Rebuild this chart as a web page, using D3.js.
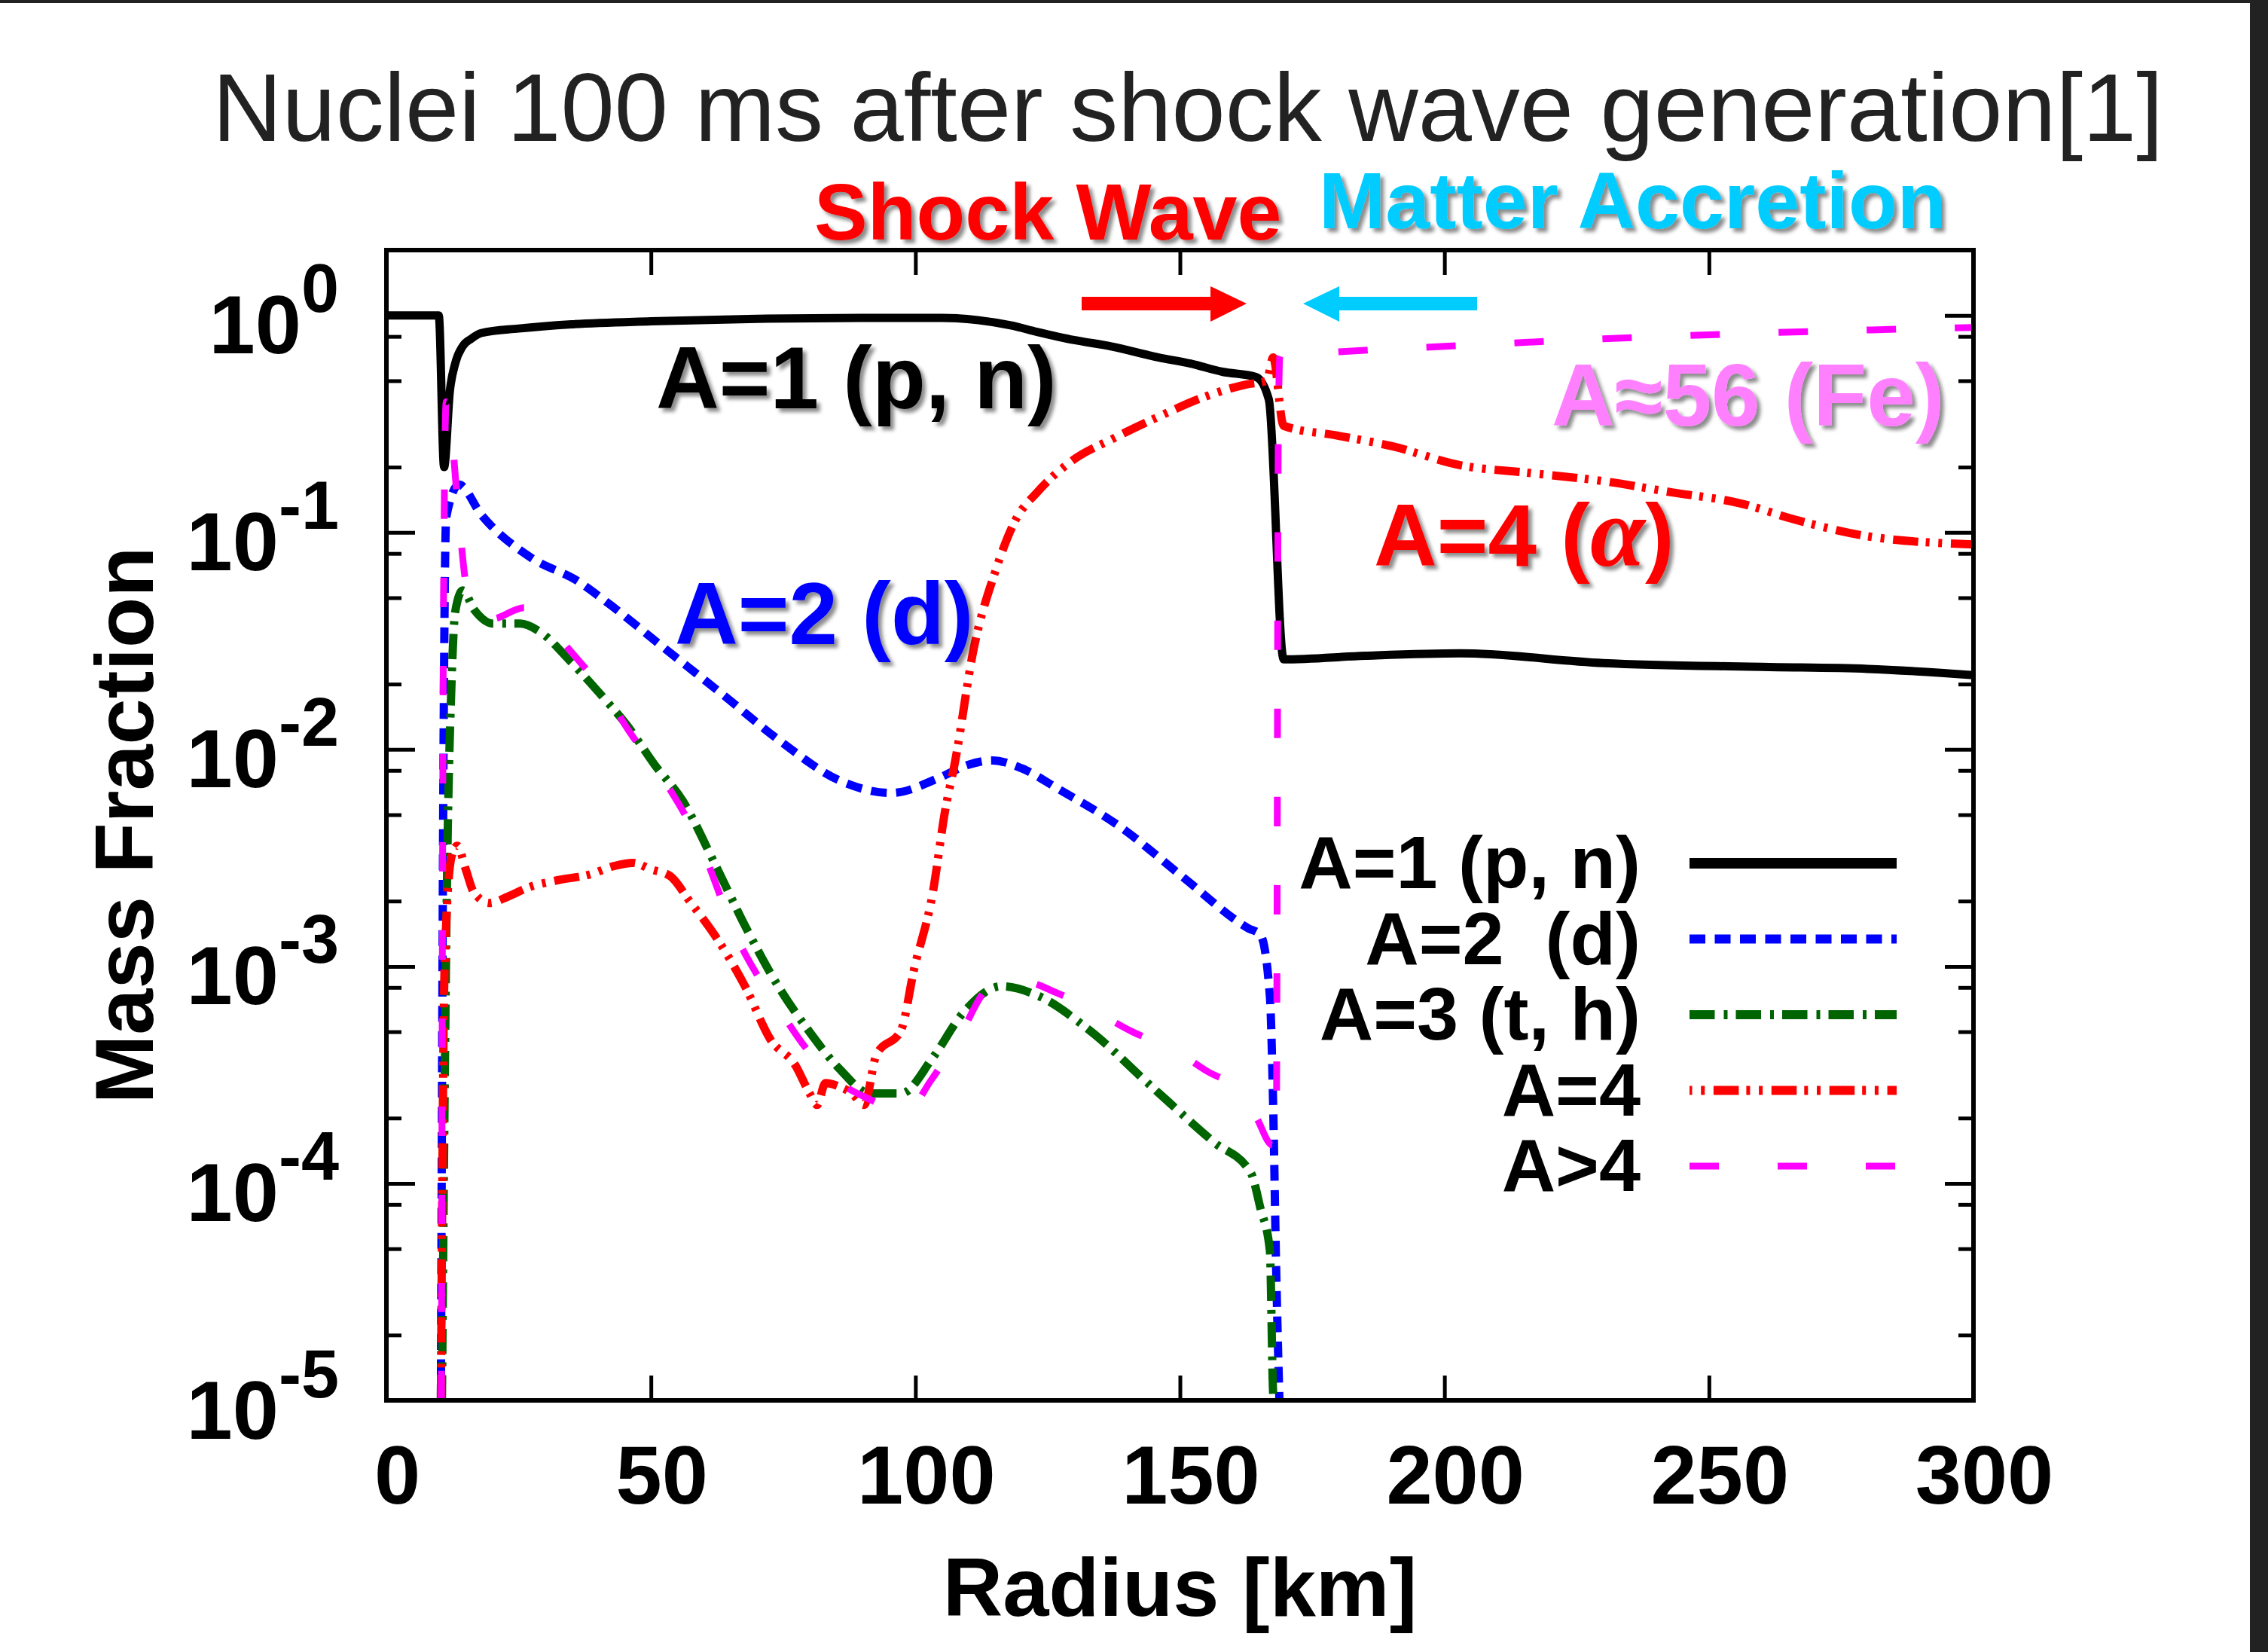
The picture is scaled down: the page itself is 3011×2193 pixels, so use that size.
<!DOCTYPE html>
<html>
<head>
<meta charset="utf-8">
<script src="https://cdn.jsdelivr.net/npm/d3@7"></script>
<style>
  body { margin: 0; background: #fff; }
  svg { display: block; }
</style>
</head>
<body>
<main></main>
<script>
const W = 3011;
const H = 2193;
const margin = { left: 513, right: 391, top: 332, bottom: 334 };

// axis ticks
const radiusTicks = [0, 50, 100, 150, 200, 250, 300];
const decadeExponents = [0, -1, -2, -3, -4, -5];
const minorMantissas = [2, 5, 8];

// mass fraction curves, [radius km, fraction]
const a1PN = [[0,1],[9.9,1],[10.9,0.2],[12,0.45],[13,0.6],[14.4,0.72],[16,0.78],[18,0.83],[25,0.87],[35,0.91],[50,0.94],[70,0.965],[90,0.975],[105,0.975],[112,0.95],[118,0.9],[123,0.84],[130,0.77],[137,0.72],[146,0.64],[152,0.6],[158,0.55],[164.4,0.52],[166.8,0.41],[169.6,0.026],[185,0.027],[203,0.0277],[230,0.025],[260,0.024],[280,0.0235],[300,0.022]];

const a2D = [[10.3,1e-5],[10.8,0.01],[11.3,0.117],[13.7,0.166],[18,0.12],[27.5,0.076],[36,0.06],[42,0.047],[52,0.03],[63.7,0.0178],[74.7,0.0108],[85.6,0.0072],[95.5,0.0063],[104.5,0.0074],[110,0.0085],[114.5,0.0089],[120,0.0082],[126.9,0.0066],[138.7,0.0044],[150.4,0.0026],[162.9,0.0015],[165.2,0.0014],[167,7.3e-4],[167.6,2.4e-4],[168.2,3.9e-5],[168.8,1e-5]];

const a3TH = [[10.5,1e-5],[11.5,0.003],[12.3,0.02],[13,0.043],[14.4,0.054],[16.6,0.044],[20.2,0.038],[25.3,0.038],[28.9,0.035],[34.7,0.0256],[40.6,0.0178],[45.6,0.0128],[50.7,0.0085],[56,0.0058],[62,0.003],[67.9,0.00152],[73.8,8.3e-4],[79.7,5.1e-4],[85.5,3.4e-4],[91.5,2.6e-4],[97.3,2.6e-4],[103.3,3.8e-4],[109,6.1e-4],[116.3,8.1e-4],[123.3,7.3e-4],[132.8,5.1e-4],[144.6,2.8e-4],[156.4,1.55e-4],[163.4,1.12e-4],[165.2,7.7e-5],[167,4.9e-5],[167.6,1.1e-5],[167.7,1e-5]];

const a4Alpha = [[10.3,1e-5],[11,0.001],[12.3,0.0032],[13.4,0.0036],[15,0.0028],[16.5,0.0022],[19.5,0.00196],[23,0.0021],[26.6,0.0023],[32.5,0.0025],[38.4,0.00265],[43,0.0029],[46.6,0.003],[50,0.0028],[53.7,0.0026],[57.3,0.002],[62,0.0014],[67.9,8e-4],[72.6,4.6e-4],[77.3,3.5e-4],[80,2.6e-4],[81.4,2.3e-4],[83,2.9e-4],[85.5,2.8e-4],[88,2.6e-4],[90.3,2.3e-4],[92.6,3.9e-4],[97.3,5.1e-4],[99.7,9.6e-4],[103.3,0.0022],[105.6,0.0052],[107.5,0.0088],[111,0.029],[115,0.065],[119,0.115],[123,0.153],[129.5,0.213],[137.4,0.271],[146.6,0.347],[154.5,0.42],[162.4,0.48],[166.4,0.5],[167.6,0.64],[169.6,0.31],[179.5,0.28],[190,0.25],[203,0.204],[216,0.188],[229.5,0.173],[243,0.153],[256,0.136],[266,0.115],[280,0.096],[300,0.088]];

const aHeavy = [[10.4,1e-5],[10.8,0.05],[11.3,0.4],[12,0.35],[13.3,0.15],[15.6,0.05],[20,0.04],[26,0.045],[29.5,0.04],[35,0.028],[41,0.0187],[46,0.012],[51.4,0.0079],[59.4,0.0036],[66,0.0014],[74,6.5e-4],[80,4e-4],[85,3e-4],[92,2.4e-4],[98,2.1e-4],[103,3e-4],[108,4.6e-4],[114,8e-4],[119.7,8.6e-4],[127,7.5e-4],[134,6.2e-4],[141,5e-4],[149,4.1e-4],[155,3.3e-4],[161.7,2.6e-4],[164.5,2e-4],[167.5,1.5e-4],[168.2,1.5e-4],[168.6,0.3],[168.9,0.65],[180,0.68],[200,0.72],[230,0.78],[260,0.83],[300,0.88]];

const seriesNames = ["A=1 (p, n)", "A=2\u00a0 (d)", "A=3 (t, h)", "A=4", "A>4"];
const seriesData = [a1PN, a2D, a3TH, a4Alpha, aHeavy];

// looks
const colors = ["#000000", "#0000ff", "#006400", "#ff0000", "#ff00ff"];
const dashes = ["none", "21 12.5", "33.5 12 5 11", "33.5 10 5 11.7 5 11.7", "39 78"];
const widths = [11, 11, 11, 11, 9];
const legendWidths = [14, 12, 12, 12, 9];

const svg = d3.select("main").append("svg")
    .attr("width", W)
    .attr("height", H);

svg.append("rect").attr("width", W).attr("height", H).attr("fill", "#fff");
// dark screen edge
svg.append("rect").attr("x", 0).attr("y", 0).attr("width", W).attr("height", 4).attr("fill", "#222");
svg.append("rect").attr("x", 2987).attr("y", 0).attr("width", 24).attr("height", H).attr("fill", "#222");

const defs = svg.append("defs");
defs.append("filter")
    .attr("id", "shadow")
    .attr("x", "-10%").attr("y", "-20%")
    .attr("width", "130%").attr("height", "150%")
  .append("feDropShadow")
    .attr("dx", 5).attr("dy", 5)
    .attr("stdDeviation", 2.5)
    .attr("flood-color", "#000")
    .attr("flood-opacity", 0.45);

const plotW = W - margin.left - margin.right;
const plotH = H - margin.top - margin.bottom;

defs.append("clipPath").attr("id", "plotclip")
  .append("rect")
    .attr("x", margin.left).attr("y", margin.top)
    .attr("width", plotW).attr("height", plotH);

const xScale = d3.scaleLinear()
    .domain([0, 300])
    .range([margin.left, margin.left + plotW]);

const yScale = d3.scaleLog()
    .domain([1e-5, 2])
    .range([margin.top + plotH, margin.top]);

const font = "'Liberation Sans', Arial, Helvetica, sans-serif";

// ticks
const majorY = decadeExponents.map(e => Math.pow(10, e));
const minorY = [];
decadeExponents.forEach(e => {
    if (e < 0) minorMantissas.forEach(m => minorY.push(m * Math.pow(10, e)));
});

function styleTicks(g) {
    g.select(".domain").remove();
    g.selectAll(".tick line").attr("stroke", "#000").attr("stroke-width", 5);
}

svg.append("g")
    .attr("transform", "translate(0," + (margin.top + plotH) + ")")
    .call(d3.axisBottom(xScale).tickValues(radiusTicks).tickSizeInner(-33).tickSizeOuter(0))
    .call(styleTicks)
    .call(g => g.selectAll("text")
        .attr("y", 137).attr("dy", null).attr("dx", 14)
        .attr("fill", "#000")
        .style("font-family", font).style("font-size", "110px").style("font-weight", "bold"));

svg.append("g")
    .attr("transform", "translate(0," + margin.top + ")")
    .call(d3.axisTop(xScale).tickValues(radiusTicks).tickSizeInner(-33).tickSizeOuter(0).tickFormat(""))
    .call(styleTicks);

svg.append("g")
    .attr("transform", "translate(" + margin.left + ",0)")
    .call(d3.axisLeft(yScale).tickValues(majorY).tickSizeInner(-38).tickSizeOuter(0).tickFormat(""))
    .call(styleTicks)
    .call(g => g.selectAll(".tick text").each(function(d) {
        const t = d3.select(this)
            .attr("x", -63).attr("dy", 50)
            .attr("fill", "#000")
            .attr("text-anchor", "end")
            .style("font-family", font).style("font-size", "110px").style("font-weight", "bold");
        t.append("tspan").text("10");
        t.append("tspan").attr("dy", -55).style("font-size", "90px")
            .text(Math.round(Math.log10(d)) === 0 ? "0" : "-" + Math.abs(Math.round(Math.log10(d))));
    }));

svg.append("g")
    .attr("transform", "translate(" + margin.left + ",0)")
    .call(d3.axisLeft(yScale).tickValues(minorY).tickSizeInner(-20).tickSizeOuter(0).tickFormat(""))
    .call(styleTicks);

svg.append("g")
    .attr("transform", "translate(" + (margin.left + plotW) + ",0)")
    .call(d3.axisRight(yScale).tickValues(majorY).tickSizeInner(-38).tickSizeOuter(0).tickFormat(""))
    .call(styleTicks);

svg.append("g")
    .attr("transform", "translate(" + (margin.left + plotW) + ",0)")
    .call(d3.axisRight(yScale).tickValues(minorY).tickSizeInner(-20).tickSizeOuter(0).tickFormat(""))
    .call(styleTicks);

// curves
const line = d3.line()
    .x(d => xScale(d[0]))
    .y(d => yScale(d[1]))
    .curve(d3.curveMonotoneX);

svg.append("g")
    .attr("clip-path", "url(#plotclip)")
  .selectAll("path")
    .data(seriesData)
    .enter()
    .append("path")
    .attr("d", d => line(d))
    .attr("fill", "none")
    .attr("stroke", (d, i) => colors[i])
    .attr("stroke-width", (d, i) => widths[i])
    .attr("stroke-dasharray", (d, i) => dashes[i])
    .attr("stroke-linejoin", "round");

// frame
svg.append("rect")
    .attr("x", margin.left).attr("y", margin.top)
    .attr("width", plotW).attr("height", plotH)
    .attr("fill", "none")
    .attr("stroke", "#000")
    .attr("stroke-width", 6);

// legend
const legend = svg.append("g");
seriesNames.forEach((name, i) => {
    const ly = 1146 + i * 100.5;
    legend.append("text")
        .attr("x", 2178).attr("y", ly + 33)
        .attr("text-anchor", "end")
        .style("font-family", font).style("font-size", "99px").style("font-weight", "bold")
        .text(name);
    legend.append("line")
        .attr("x1", 2243).attr("x2", 2518)
        .attr("y1", ly).attr("y2", ly)
        .attr("stroke", colors[i])
        .attr("stroke-width", legendWidths[i])
        .attr("stroke-dasharray", dashes[i])
        .attr("stroke-dashoffset", i === 3 ? 45 : 0);
});

// axis titles
svg.append("text")
    .attr("x", margin.left + plotW / 2).attr("y", 2145)
    .attr("text-anchor", "middle")
    .style("font-family", font).style("font-size", "110px").style("font-weight", "bold")
    .text("Radius [km]");

svg.append("text")
    .attr("transform", "translate(203," + (margin.top + plotH / 2) + ") rotate(-90)")
    .attr("text-anchor", "middle")
    .style("font-family", font).style("font-size", "110px").style("font-weight", "bold")
    .text("Mass Fraction");

// title
svg.append("text")
    .attr("x", 282).attr("y", 187)
    .attr("fill", "#222")
    .style("font-family", font).style("font-size", "128px")
    .text("Nuclei 100 ms after shock wave generation[1]");

// annotations
function label(x, y, size, color, txt) {
    return svg.append("text")
        .attr("x", x).attr("y", y)
        .attr("fill", color)
        .attr("filter", "url(#shadow)")
        .style("font-family", font).style("font-size", size + "px").style("font-weight", "bold")
        .text(txt);
}

label(1081, 318, 106, "#ff0000", "Shock Wave");
label(1751, 303, 106, "#00ccff", "Matter Accretion");
label(871, 542, 116, "#000000", "A=1 (p, n)");
label(896, 855, 116, "#0000ff", "A=2 (d)");
label(2060, 565, 116, "#ff80ff", "A\u224856 (Fe)");

const alphaLabel = label(1824, 751, 116, "#ff0000", "A=4 (");
alphaLabel.append("tspan")
    .style("font-family", "'Liberation Serif', 'Times New Roman', serif")
    .style("font-style", "italic")
    .style("font-size", "132px")
    .text("\u03b1");
alphaLabel.append("tspan").text(")");

// arrows
svg.append("path")
    .attr("d", "M1436,394 L1607,394 L1607,380 L1655,403 L1607,427 L1607,412 L1436,412 Z")
    .attr("fill", "#ff0000");
svg.append("path")
    .attr("d", "M1961,394 L1778,394 L1778,380 L1730,403 L1778,427 L1778,412 L1961,412 Z")
    .attr("fill", "#00ccff");
</script>
</body>
</html>
